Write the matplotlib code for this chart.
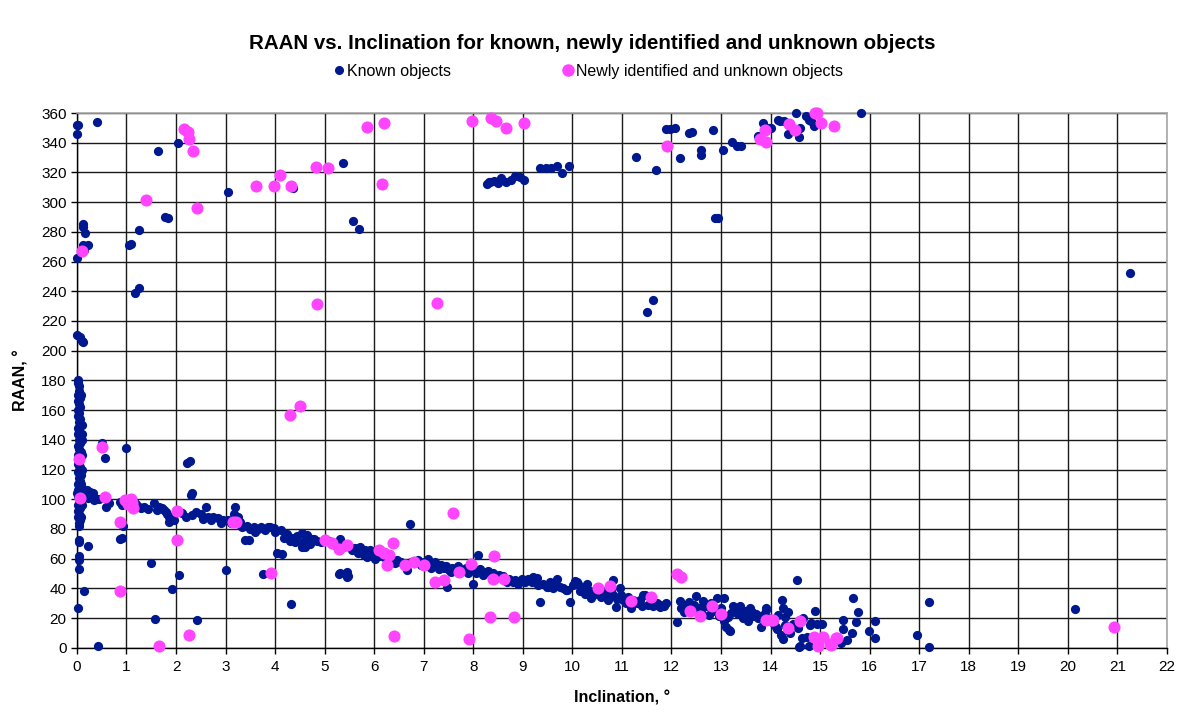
import matplotlib
matplotlib.use('Agg')
import matplotlib.pyplot as plt
from matplotlib.lines import Line2D

plt.rcParams['font.family'] = ['Liberation Sans', 'DejaVu Sans']

# Known objects: (inclination, RAAN)
known_upper = [
    (0.0, 351.7), (0.03, 352), (0.0, 346), (0.40, 354), (1.63, 334.7), (2.03, 340),
    (1.77, 290), (1.83, 289), (3.04, 307), (4.36, 309.5), (5.37, 326.5), (5.58, 287),
    (5.70, 282), (0.12, 285.4), (0.13, 283), (0.17, 279), (0.13, 271), (0.23, 271),
    (0.15, 268), (0.01, 262.6), (1.06, 271), (1.09, 271.7), (1.26, 281), (1.17, 239),
    (1.25, 242.5), (0.01, 210.7), (0.06, 209), (0.10, 206.5), (0.13, 205.8),
]
known_geo_belt = [
    (8.28, 312.5), (8.31, 313.4), (8.34, 313.4), (8.41, 314), (8.49, 313), (8.56, 316),
    (8.66, 313.8), (8.77, 315), (8.85, 317.6), (8.95, 317), (9.03, 314.6), (9.34, 322.8),
    (9.46, 322.8), (9.56, 323.3), (9.68, 324), (9.79, 319.7), (9.93, 324), (11.28, 330.4),
    (11.68, 321.5), (11.50, 226), (11.62, 234), (11.89, 349.2), (11.97, 349.2),
    (12.07, 349.7), (12.36, 346.3), (12.42, 347.2), (12.17, 329.6), (12.59, 335.4),
    (12.59, 331.4), (12.84, 348.8), (13.05, 335), (13.23, 340.5), (13.32, 338),
    (13.41, 338), (12.88, 289.5), (12.95, 289.5), (13.85, 353.3), (13.97, 350),
    (13.74, 344.8), (14.15, 355), (14.52, 360), (15.82, 360), (14.20, 354.8),
    (14.28, 354.8), (14.72, 357.7), (14.77, 355), (14.81, 354.4), (14.87, 351.5),
    (14.59, 350), (14.35, 345.7), (14.58, 344), (14.0, 350), (21.26, 252.3),
]
known_column = [
    (0.03, 180), (0.02, 178), (0.04, 176), (0.05, 173), (0.03, 170), (0.06, 168),
    (0.08, 170), (0.02, 166), (0.05, 164), (0.07, 162), (0.03, 160), (0.05, 158),
    (0.02, 156), (0.06, 154), (0.04, 152), (0.08, 150), (0.10, 150), (0.03, 148),
    (0.05, 146), (0.02, 144), (0.11, 144), (0.06, 142), (0.04, 140), (0.10, 140),
    (0.07, 138), (0.02, 136), (0.05, 134), (0.08, 132), (0.10, 130), (0.03, 130),
    (0.06, 128), (0.04, 126), (0.02, 124), (0.07, 122), (0.11, 120), (0.05, 120),
    (0.03, 118), (0.08, 116), (0.04, 114), (0.06, 112), (0.02, 110), (0.09, 110),
    (0.05, 108), (0.12, 107), (0.03, 106), (0.07, 104), (0.15, 106), (0.02, 102),
    (0.05, 100), (0.08, 98), (0.03, 96), (0.10, 96), (0.06, 94), (0.02, 92),
    (0.05, 90), (0.03, 88), (0.09, 88), (0.06, 86), (0.04, 84), (0.05, 82), (0.0, 104),
    (0.2, 106), (0.26, 105), (0.33, 104), (0.22, 101), (0.4, 100), (0.45, 100),
    (0.35, 99.5),
]
known_band = [
    (0.03, 27), (0.42, 1.1), (0.15, 38.2), (0.23, 68.5), (0.04, 72.6), (0.05, 71),
    (0.04, 62), (0.05, 59), (0.04, 53.3), (0.51, 138), (0.56, 127.6), (1.0, 134.4),
    (0.59, 95), (0.64, 97.3), (0.86, 98.4), (0.90, 96), (0.87, 73), (0.90, 73.7),
    (0.92, 82.2),
    (1.1, 96), (1.15, 98), (1.2, 97), (1.26, 95), (1.3, 94), (1.35, 95), (1.43, 93.3),
    (1.56, 97.3), (1.62, 93), (1.66, 95), (1.72, 94), (1.75, 93), (1.79, 91.7),
    (1.82, 90), (1.86, 88.3), (1.86, 85), (1.95, 86), (2.12, 90.6), (2.2, 88),
    (2.22, 124.3), (2.28, 125.4), (2.33, 104), (2.30, 103), (2.32, 89.1), (2.41, 91.4),
    (2.5, 90), (2.55, 87), (2.61, 95), (2.64, 88.3), (2.7, 86), (2.75, 88), (2.84, 87.2),
    (2.9, 84), (2.94, 86), (3.05, 86), (3.1, 84), (3.17, 90), (3.20, 95), (3.25, 88),
    (3.27, 83.4), (3.3, 85), (3.34, 81), (3.44, 82), (3.5, 80), (3.58, 81.6), (3.6, 78),
    (3.65, 80), (3.72, 81.5), (3.8, 79), (3.85, 81.6), (3.9, 81), (3.98, 80.6), (4.0, 78),
    (4.11, 79.3), (3.40, 72.6), (3.48, 72.6), (4.03, 63.6), (1.50, 56.9), (1.58, 19.6),
    (1.91, 39.8), (2.06, 49.2), (2.43, 18.7), (3.0, 52.4), (3.75, 49.7), (4.32, 29.7),
    (4.14, 63.4), (4.18, 74), (4.21, 76), (4.24, 76.9), (4.31, 71.7), (4.34, 73.7),
    (4.38, 73.5), (4.4, 71), (4.44, 75.3), (4.54, 77), (4.54, 67.9), (4.57, 71.2),
    (4.60, 68), (4.64, 74.6), (4.64, 76), (4.7, 70), (4.74, 73), (4.78, 73.5), (4.85, 72),
    (4.92, 71), (5.08, 72), (5.20, 69), (5.30, 73), (5.31, 50), (5.28, 49.9), (5.38, 68),
    (5.45, 51), (5.45, 47.4), (5.47, 48.5), (5.52, 67.9), (5.55, 66), (5.62, 67),
    (5.65, 66.7), (5.68, 64), (5.72, 68), (5.79, 64.5), (5.79, 62.5), (5.82, 66),
    (5.85, 61.1), (5.9, 63), (5.92, 65.6), (5.95, 62), (5.99, 63.4), (6.02, 60),
    (6.08, 64), (6.1, 62), (6.2, 61), (6.3, 60), (6.35, 59), (6.42, 57), (6.46, 58.9),
    (6.55, 58), (6.6, 56), (6.66, 52.1), (6.72, 83.6), (6.75, 58), (6.8, 57), (6.89, 58.9),
    (6.95, 56), (7.0, 58), (7.05, 57), (7.09, 60), (7.15, 54), (7.18, 57), (7.22, 58),
    (7.26, 55.5), (7.3, 53), (7.35, 56), (7.40, 54), (7.45, 55), (7.50, 52.1),
    (7.47, 40.7), (7.55, 51), (7.58, 54), (7.66, 53), (7.7, 55), (7.80, 52), (7.85, 54),
    (7.9, 50), (7.99, 43.2), (8.09, 62.3), (8.0, 52.1), (8.05, 50), (8.13, 53), (8.2, 49),
    (8.26, 51), (8.3, 52), (8.39, 50), (8.45, 47), (8.52, 49), (8.6, 48), (8.68, 44),
    (8.72, 46.5), (8.85, 45.4), (8.81, 44.5), (8.9, 43), (8.98, 46.5), (9.05, 44),
    (9.1, 46), (9.18, 44.5), (9.21, 47.9), (9.28, 47.2), (9.30, 42), (9.35, 31),
    (9.4, 43), (9.48, 41.1), (9.51, 40.9), (9.55, 44), (9.60, 40), (9.65, 42),
    (9.68, 46.5), (9.75, 41), (9.82, 40), (9.88, 38.6), (9.95, 31), (9.89, 39.2),
    (10.02, 42.2), (10.05, 44.9), (10.09, 44.5), (10.12, 42.6), (10.15, 38),
    (10.19, 40.4), (10.25, 36), (10.29, 42.6), (10.36, 38.1), (10.38, 33.3),
    (10.42, 35.8), (10.45, 38), (10.49, 40.4), (10.56, 35.8), (10.58, 34), (10.62, 38.1),
    (10.68, 36), (10.72, 32.4), (10.78, 39), (10.83, 45.6), (10.83, 35.8), (10.89, 27.6),
    (10.9, 33), (10.96, 40.4), (10.99, 35.8), (11.03, 32.4), (11.09, 30.2), (11.12, 34),
    (11.19, 26.8), (11.23, 32.1), (11.3, 30), (11.36, 32.4), (11.4, 28), (11.43, 35.5),
    (11.46, 35.8), (11.53, 29), (11.58, 31), (11.63, 27.9), (11.7, 30), (11.77, 29),
    (11.77, 27.6), (11.85, 28), (11.90, 30.2),
    (12.11, 17.3), (12.17, 31.3), (12.2, 27), (12.25, 24), (12.30, 29), (12.35, 31),
    (12.44, 25.6), (12.45, 29), (12.50, 34.7), (12.55, 27), (12.6, 24), (12.64, 31.3),
    (12.70, 27.9), (12.75, 22), (12.8, 30), (12.84, 24.5), (12.91, 33.6), (12.97, 21.1),
    (13.0, 27), (13.06, 33.3), (13.07, 17.7), (13.11, 14.2), (13.15, 21), (13.17, 12),
    (13.19, 11.5), (13.21, 23.4), (13.25, 28), (13.31, 25.6), (13.35, 23), (13.38, 27.9),
    (13.45, 20), (13.48, 24.5), (13.5, 22), (13.55, 18), (13.58, 26.8), (13.62, 24),
    (13.64, 21.1), (13.7, 23), (13.74, 20), (13.81, 14.3), (13.85, 22), (13.90, 25.6),
    (13.91, 26.5), (13.95, 20), (14.02, 18.8), (14.08, 16), (14.12, 14.3), (14.15, 22),
    (14.23, 32.4), (14.25, 26.5), (14.30, 20.4), (14.3, 15), (14.35, 24), (14.13, 12.4),
    (14.26, 5.6), (14.21, 8.7), (14.4, 10), (14.45, 16), (14.54, 45.6), (14.56, 13),
    (14.60, 1.1), (14.58, 0.7), (14.77, 1.1), (14.66, 19.8), (14.80, 15.3), (14.90, 24.7),
    (14.93, 16), (15.03, 16), (14.73, 7.4), (14.63, 6.3), (14.82, 16.6), (15.46, 18.8),
    (15.47, 12.8), (15.66, 33.3), (15.77, 23.8), (15.72, 17.1), (15.64, 9.7),
    (15.54, 5.2), (15.42, 3.4), (16.11, 18.2), (15.99, 11.5), (16.11, 6.3),
    (17.20, 30.6), (16.95, 8.5), (17.19, 0.2), (20.15, 26.3),
]

# Newly identified and unknown objects: (inclination, RAAN)
new_upper = [
    (0.10, 266.8), (1.40, 301.2), (2.17, 349.3), (2.24, 347), (2.27, 342.8),
    (2.34, 334.7), (2.42, 296), (3.61, 310.6), (3.97, 311), (4.10, 318), (4.32, 310.6),
    (4.82, 323.8), (5.07, 323), (4.85, 231.5), (5.85, 350.6), (6.20, 353), (6.15, 312),
    (7.97, 354.8), (8.36, 356.6), (8.46, 354.4), (8.66, 349.7), (9.03, 353),
    (7.27, 232.3), (11.91, 338), (13.89, 348.4), (13.78, 342.5), (13.91, 340.5),
    (14.89, 360), (14.94, 360), (15.01, 353.3), (15.29, 351.5), (14.38, 352.6),
    (14.50, 348.8),
]
new_lower = [
    (4.30, 156.9), (4.50, 163), (0.51, 135), (0.05, 127), (0.07, 100.7), (0.56, 101.8),
    (0.97, 99.6), (1.10, 100), (1.03, 96.9), (1.14, 94), (1.12, 97.3), (2.02, 92.3),
    (2.02, 72.6), (3.14, 84.5), (3.22, 84.5), (0.87, 84.5), (0.87, 38.2), (1.66, 1.3),
    (2.26, 8.5), (3.92, 50.6), (5.01, 72.6), (5.15, 70.8), (5.28, 66.7), (5.45, 69),
    (6.10, 66), (6.19, 63.6), (6.29, 62.5), (6.26, 55.7), (6.37, 70.3), (6.40, 7.9),
    (6.62, 55.5), (6.81, 57.8), (7.01, 55.5), (7.23, 44.3), (7.40, 45.4), (7.71, 51),
    (7.60, 90.6), (7.95, 56.6), (8.42, 61.6), (8.34, 20.5), (8.82, 20.5), (8.39, 46.5),
    (8.62, 46.5), (7.91, 5.8), (10.52, 40.2), (10.76, 41.9), (11.18, 31.5),
    (11.59, 34.2), (12.12, 49.7), (12.19, 47.6), (12.37, 25), (12.58, 21.5),
    (12.81, 28.2), (13.01, 23), (13.90, 18.7), (14.01, 19), (14.05, 18.7), (14.36, 13),
    (14.60, 18.3), (14.87, 7.2), (14.95, 1.1), (15.05, 7), (15.22, 2), (15.35, 6.3),
    (15.20, 2.5), (15.32, 6.4), (20.93, 13.7),
]

known = known_upper + known_geo_belt + known_column + known_band
new = new_upper + new_lower
known_incl = [p[0] for p in known]
known_raan = [p[1] for p in known]
new_incl = [p[0] for p in new]
new_raan = [p[1] for p in new]

navy = '#00188f'
pink = '#ff44ff'

fig = plt.figure(figsize=(11.84, 7.13), dpi=100)
ax = fig.add_axes([0.065, 0.0915, 0.9205, 0.75])

ax.scatter(known_incl, known_raan, s=44, color=navy, linewidths=0, zorder=3, clip_on=False)
ax.scatter(new_incl, new_raan, s=76, color=pink, linewidths=0, zorder=4, clip_on=False)

ax.set_xlim(0, 22)
ax.set_ylim(0, 360)
ax.set_xticks(range(0, 23))
ax.set_yticks(range(0, 361, 20))
ax.grid(True, color='#1a1a1a', linewidth=1.0)
ax.set_axisbelow(True)

for side in ['top', 'right']:
    ax.spines[side].set_color('#a8a8a8')
    ax.spines[side].set_linewidth(1.2)
for side in ['left', 'bottom']:
    ax.spines[side].set_color('black')
    ax.spines[side].set_linewidth(1.0)

ax.tick_params(direction='out', length=4, width=1, colors='black', labelsize=11)
ax.tick_params(axis='x', pad=5)

ax.set_xlabel('Inclination, °', fontsize=11.5, fontweight='bold', labelpad=12)
ax.set_ylabel('RAAN, °', fontsize=11.5, fontweight='bold', labelpad=9)

fig.suptitle('RAAN vs. Inclination for known, newly identified and unknown objects',
             fontsize=14.8, fontweight='bold', y=0.952)

handles = [
    Line2D([], [], linestyle='none', marker='o', markersize=5.5, color=navy),
    Line2D([], [], linestyle='none', marker='o', markersize=8, color=pink),
]
fig.legend(handles, ['Known objects', 'Newly identified and unknown objects'],
           loc='center', bbox_to_anchor=(0.497, 0.9), ncol=2, frameon=False,
           fontsize=11.5, handlelength=0.6, handletextpad=0.2, columnspacing=7.0)

fig.savefig('out.png', dpi=100)
